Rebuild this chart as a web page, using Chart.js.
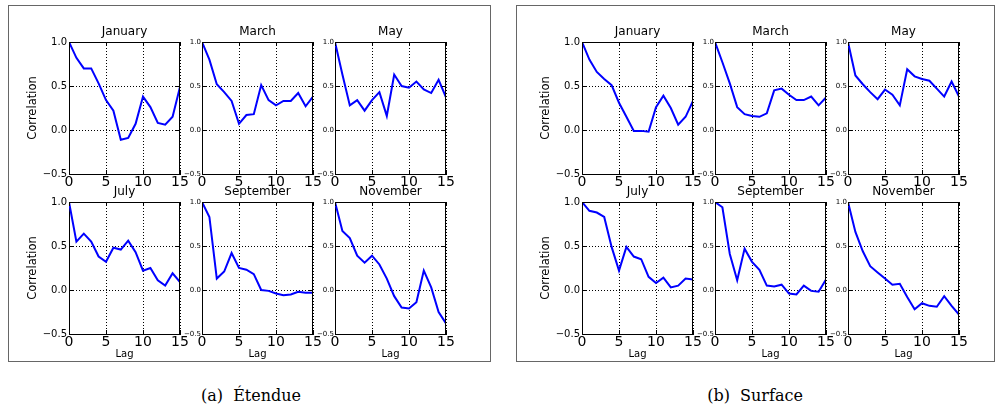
<!DOCTYPE html>
<html>
<head>
<meta charset="utf-8">
<script src="https://cdn.jsdelivr.net/npm/chart.js@4.4.1/dist/chart.umd.min.js"></script>
<style>
  body{margin:0;background:#fff;}
  #page{position:relative;width:995px;height:409px;overflow:hidden;background:#fff;}
  .panel{position:absolute;border:1px solid #666;box-sizing:border-box;}
  .sub{position:absolute;}
  .cap{position:absolute;font-family:'DejaVu Serif',serif;font-size:16px;color:#000;white-space:pre;transform:translateX(-50%);}
</style>
</head>
<body>
<div id="page">
  <div class="panel" style="left:8px;top:5px;width:483px;height:357px"></div>
  <div class="panel" style="left:516px;top:5px;width:479px;height:357px"></div>
  <div class="cap" style="left:251px;top:386px">(a)  Étendue</div>
  <div class="cap" style="left:755px;top:386px">(b)  Surface</div>
</div>
<script>
'use strict';

// ── data: autocorrelation by lag ──
var lags = [0,1,2,3,4,5,6,7,8,9,10,11,12,13,14,15];
var months = ['January','March','May','July','September','November'];
var yTicks = [-0.5, 0, 0.5, 1.0];
var xTicks = [0, 5, 10, 15];

// (a) Étendue
var etJanuary   = [1.0,0.82,0.70,0.70,0.53,0.34,0.22,-0.11,-0.09,0.07,0.38,0.26,0.08,0.06,0.15,0.49];
var etMarch     = [1.0,0.80,0.52,0.43,0.33,0.07,0.17,0.18,0.51,0.34,0.28,0.33,0.33,0.42,0.27,0.38];
var etMay       = [1.0,0.63,0.28,0.34,0.22,0.34,0.43,0.16,0.63,0.50,0.48,0.55,0.46,0.42,0.57,0.37];
var etJuly      = [1.0,0.55,0.64,0.55,0.38,0.32,0.48,0.46,0.56,0.43,0.22,0.25,0.11,0.05,0.19,0.09];
var etSeptember = [1.0,0.83,0.13,0.21,0.42,0.25,0.23,0.18,0.00,-0.01,-0.04,-0.06,-0.05,-0.02,-0.03,-0.03];
var etNovember  = [1.0,0.67,0.59,0.39,0.31,0.39,0.29,0.13,-0.07,-0.20,-0.21,-0.14,0.22,0.03,-0.25,-0.38];

// (b) Surface
var srJanuary   = [1.0,0.80,0.66,0.58,0.51,0.31,0.15,-0.01,-0.01,-0.02,0.26,0.39,0.25,0.06,0.15,0.33];
var srMarch     = [1.0,0.77,0.53,0.26,0.18,0.16,0.15,0.19,0.45,0.47,0.40,0.34,0.34,0.38,0.28,0.37];
var srMay       = [1.0,0.62,0.52,0.43,0.35,0.46,0.40,0.28,0.69,0.61,0.58,0.56,0.47,0.38,0.55,0.38];
var srJuly      = [1.0,0.90,0.88,0.83,0.49,0.22,0.49,0.38,0.35,0.15,0.08,0.14,0.03,0.05,0.13,0.12];
var srSeptember = [1.0,0.94,0.41,0.11,0.47,0.32,0.23,0.05,0.04,0.06,-0.04,-0.05,0.05,-0.01,-0.02,0.12];
var srNovember  = [1.0,0.66,0.44,0.27,0.20,0.13,0.06,0.07,-0.08,-0.22,-0.15,-0.18,-0.19,-0.07,-0.18,-0.28];

var etendue = [etJanuary, etMarch, etMay, etJuly, etSeptember, etNovember];
var surface = [srJanuary, srMarch, srMay, srJuly, srSeptember, srNovember];

// ── layout of the 2x3 grids ──
var FONT = "'DejaVu Sans', sans-serif";
var panelLeft = [0, 513];
var colLeft = [69, 202, 335];
var rowTop = [42, 202];
var PW = 111, PH = 132;
var TITLE_H = 17, PAD_R = 12;

Chart.defaults.color = '#000';
Chart.defaults.font.family = FONT;

function fmtY(v){
  return (v < 0 ? '\u2212' : '') + Math.abs(v).toFixed(1);
}

// top/right spines + inward tick marks (matplotlib look)
var framePlugin = {
  id: 'frame',
  afterDraw: function(chart){
    var a = chart.chartArea, c = chart.ctx;
    var xs = chart.scales.x, ys = chart.scales.y;
    c.save();
    c.strokeStyle = '#000';
    c.lineWidth = 1;
    c.beginPath();
    c.moveTo(a.left, a.top + 0.5); c.lineTo(a.right, a.top + 0.5);
    c.moveTo(a.right - 0.5, a.top); c.lineTo(a.right - 0.5, a.bottom);
    xTicks.forEach(function(t){
      var px = Math.round(xs.getPixelForValue(t)) + 0.5;
      c.moveTo(px, a.bottom); c.lineTo(px, a.bottom - 4);
      c.moveTo(px, a.top); c.lineTo(px, a.top + 4);
    });
    yTicks.forEach(function(t){
      var py = Math.round(ys.getPixelForValue(t)) + 0.5;
      c.moveTo(a.left, py); c.lineTo(a.left + 4, py);
      c.moveTo(a.right, py); c.lineTo(a.right - 4, py);
    });
    c.stroke();
    c.restore();
  }
};

function makeSub(p, idx){
  var series = p === 0 ? etendue[idx] : surface[idx];
  var row = idx < 3 ? 0 : 1, col = idx % 3;
  var leftCol = col === 0;
  var L = leftCol ? 50 : 22;
  var B = row === 1 ? 30 : 22;
  var plotX = panelLeft[p] + colLeft[col], plotY = rowTop[row];
  var w = L + PW + PAD_R, h = TITLE_H + PH + B;

  var div = document.createElement('div');
  div.className = 'sub';
  div.style.left = (plotX - L) + 'px';
  div.style.top = (plotY - TITLE_H) + 'px';
  var cv = document.createElement('canvas');
  cv.width = w; cv.height = h;
  cv.style.width = w + 'px'; cv.style.height = h + 'px';
  div.appendChild(cv);
  document.getElementById('page').appendChild(div);

  new Chart(cv, {
    type: 'line',
    data: {
      datasets: [{
        data: series.map(function(v, i){ return {x: lags[i], y: v}; }),
        borderColor: '#0000ff',
        borderWidth: 2,
        pointRadius: 0,
        tension: 0,
        fill: false
      }]
    },
    options: {
      responsive: false,
      animation: false,
      events: [],
      layout: { padding: { left: 0, top: 0, right: PAD_R, bottom: 0 } },
      plugins: {
        legend: { display: false },
        tooltip: { enabled: false },
        title: {
          display: true, text: months[idx], color: '#000', fullSize: false,
          font: { size: 12, weight: 'normal', family: FONT },
          padding: { top: 0, bottom: TITLE_H - 14.4 }
        }
      },
      scales: {
        x: {
          type: 'linear', min: 0, max: 15,
          afterBuildTicks: function(s){ s.ticks = xTicks.map(function(v){ return {value: v}; }); },
          afterFit: function(s){ s.height = B; },
          ticks: { font: { size: 14, family: FONT }, padding: 0, maxRotation: 0, color: '#000',
                   callback: function(v){ return String(v); } },
          grid: { color: '#000', lineWidth: 1, drawTicks: false },
          border: { display: true, color: '#000', width: 1, dash: [1, 2] },
          title: { display: row === 1, text: 'Lag', color: '#000',
                   font: { size: 10, family: FONT }, padding: { top: 0, bottom: 4 } }
        },
        y: {
          min: -0.5, max: 1.0,
          afterBuildTicks: function(s){ s.ticks = yTicks.map(function(v){ return {value: v}; }); },
          afterFit: function(s){ s.width = L; },
          ticks: { font: { size: leftCol ? 10 : 7, family: FONT }, padding: leftCol ? 2 : 1, color: '#000',
                   callback: fmtY },
          grid: { color: '#000', lineWidth: 1, drawTicks: false },
          border: { display: true, color: '#000', width: 1, dash: [1, 2] },
          title: { display: leftCol, text: 'Correlation', color: '#000',
                   font: { size: 11.5, family: FONT }, padding: { top: 7, bottom: 0 } }
        }
      }
    },
    plugins: [framePlugin]
  });
}

for (var p = 0; p < 2; p++) {
  for (var i = 0; i < 6; i++) makeSub(p, i);
}
</script>
</body>
</html>
